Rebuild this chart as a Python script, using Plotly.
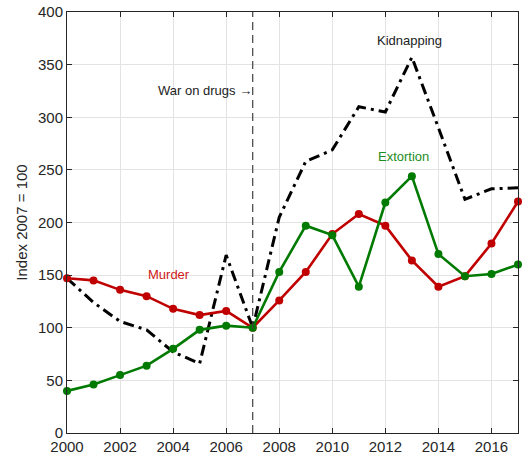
import plotly.graph_objects as go

years = list(range(2000, 2018))

murder = [147, 145, 136, 130, 118, 112, 116, 100, 126, 153, 189, 208, 197, 164, 139, 149, 180, 220]
extortion = [40, 46, 55, 64, 80, 98, 102, 100, 153, 197, 188, 139, 219, 244, 170, 149, 151, 160]
kidnapping = [147, 124, 106, 98, 77, 66, 169, 100, 205, 258, 269, 310, 305, 357, 290, 222, 232, 233]

x_ticks = list(range(2000, 2018, 2))
y_ticks = list(range(0, 401, 50))

red = "#C00000"
green = "#007A00"

fig = go.Figure()

fig.add_trace(go.Scatter(
    x=years, y=kidnapping, mode="lines",
    line=dict(color="black", width=3, dash="11px,5px,3px,5px"),
    showlegend=False,
))
fig.add_trace(go.Scatter(
    x=years, y=murder, mode="lines+markers",
    line=dict(color=red, width=2.6),
    marker=dict(color=red, size=8),
    cliponaxis=False, showlegend=False,
))
fig.add_trace(go.Scatter(
    x=years, y=extortion, mode="lines+markers",
    line=dict(color=green, width=2.6),
    marker=dict(color=green, size=8),
    cliponaxis=False, showlegend=False,
))

# war on drugs marker
fig.add_shape(type="line", x0=2007, x1=2007, y0=0, y1=400, xref="x", yref="y",
              line=dict(color="#404040", width=1.2, dash="8px,5px"))

fig.add_annotation(x=2007, y=325, text="War on drugs \u2192", showarrow=False,
                   xanchor="right", xshift=1, font=dict(size=13, color="#222222"))
fig.add_annotation(x=2012.9, y=373, text="Kidnapping", showarrow=False,
                   font=dict(size=13, color="#222222"))
fig.add_annotation(x=2012.7, y=263, text="Extortion", showarrow=False,
                   font=dict(size=13, color="#1E8C1E"))
fig.add_annotation(x=2003.85, y=151, text="Murder", showarrow=False,
                   font=dict(size=13, color="#D01818"))

axis_common = dict(
    showline=True, linecolor="#262626", linewidth=1, mirror="ticks",
    ticks="inside", ticklen=5, tickcolor="#262626",
    showgrid=True, gridcolor="#E3E3E3", gridwidth=1,
    zeroline=False, tickfont=dict(size=15, color="#262626"),
)

fig.update_layout(
    width=522, height=461,
    margin=dict(l=67, r=3, t=9, b=28),
    plot_bgcolor="white", paper_bgcolor="white",
    font=dict(family="Liberation Sans, Arial, sans-serif", color="#262626"),
    xaxis=dict(range=[2000, 2017], tickvals=x_ticks, **axis_common),
    yaxis=dict(range=[0, 400], tickvals=y_ticks,
               title=dict(text="Index 2007 = 100", font=dict(size=15), standoff=6),
               **axis_common),
)

fig.write_html("out.html", config={"displayModeBar": False},
               post_script="document.body.style.margin='0';")
